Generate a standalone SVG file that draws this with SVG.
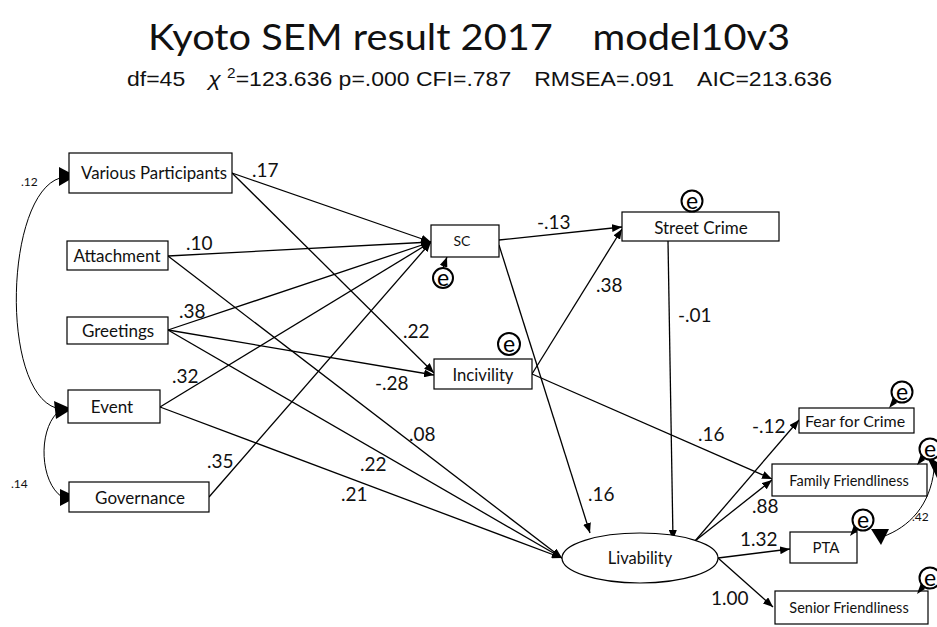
<svg xmlns="http://www.w3.org/2000/svg" width="937" height="627" viewBox="0 0 937 627">
  <defs>
    <marker id="arr" markerUnits="userSpaceOnUse" markerWidth="10" markerHeight="8" refX="10" refY="4" orient="auto">
      <path d="M0,0 L10,4 L0,8 z" fill="#000"/>
    </marker>
  </defs>
  <style>
    .bg { fill: #fff; }
    .box { fill: #fff; stroke: #000; stroke-width: 1.2; }
    .lbl { font-family: Lato, "Liberation Sans", sans-serif; fill: #111; text-anchor: middle; }
    .coef { font-family: Lato, "Liberation Sans", sans-serif; font-size: 19px; fill: #111; }
    .cov { font-family: Lato, "Liberation Sans", sans-serif; font-size: 12px; fill: #111; }
    .path { fill: none; stroke: #000; stroke-width: 1.3; marker-end: url(#arr); }
    .curve { fill: none; stroke: #000; stroke-width: 1; }
    .head { fill: #000; }
    .err circle { fill: #fff; stroke: #000; stroke-width: 2; }
    .err text { font-family: Lato, "Liberation Sans", sans-serif; font-size: 23px; fill: #000; text-anchor: middle; }
  </style>

  <rect class="bg" x="0" y="0" width="937" height="627"/>

  <!-- heading -->
  <text x="469" y="50" font-family="Lato, 'Liberation Sans', sans-serif" font-size="37" fill="#111" text-anchor="middle" textLength="642" lengthAdjust="spacingAndGlyphs">Kyoto SEM result 2017　model10v3</text>
  <text x="127" y="86" font-family="'Liberation Sans', 'Noto Sans CJK JP', sans-serif" font-size="21" fill="#111" textLength="705" lengthAdjust="spacingAndGlyphs">df=45　<tspan font-style="italic">χ</tspan> <tspan dy="-8" font-size="14">2</tspan><tspan dy="8">=123.636 p=.000 CFI=.787　RMSEA=.091　AIC=213.636</tspan></text>

  <!-- connectors -->
  <g id="connectors">
    <!-- into SC -->
    <line class="path" x1="232" y1="173" x2="431" y2="242"/>
    <line class="path" x1="168" y1="256" x2="431" y2="242"/>
    <line class="path" x1="168" y1="330" x2="431" y2="242"/>
    <line class="path" x1="160" y1="407" x2="431" y2="242"/>
    <line class="path" x1="209" y1="497" x2="431" y2="242"/>
    <!-- into Incivility -->
    <line class="path" x1="232" y1="173" x2="434" y2="373"/>
    <line class="path" x1="168" y1="330" x2="434" y2="375"/>
    <!-- into Livability -->
    <line class="path" x1="168" y1="256" x2="562" y2="558"/>
    <line class="path" x1="168" y1="330" x2="562" y2="558"/>
    <line class="path" x1="160" y1="407" x2="562" y2="558"/>
    <line class="path" x1="499" y1="245" x2="590" y2="533"/>
    <line class="path" x1="668" y1="241" x2="673" y2="540"/>
    <!-- into Street Crime -->
    <line class="path" x1="499" y1="240" x2="622" y2="227"/>
    <line class="path" x1="532" y1="374" x2="622" y2="229"/>
    <!-- Incivility to Family Friendliness -->
    <line class="path" x1="532" y1="374" x2="772" y2="479"/>
    <!-- from Livability -->
    <line class="path" x1="695" y1="541" x2="799" y2="420"/>
    <line class="path" x1="695" y1="541" x2="772" y2="480"/>
    <line class="path" x1="718" y1="558" x2="790" y2="549"/>
    <line class="path" x1="718" y1="558" x2="773" y2="607"/>
    <!-- error into SC -->
    <line class="path" x1="443" y1="268" x2="447" y2="257"/>

    <!-- covariances -->
    <path class="curve" d="M60,178 C5,195 0,390 56,408"/>
    <polygon class="head" points="59,167 76,176 59,186"/>
    <polygon class="head" points="54,401 72,409 56,419"/>
    <path class="curve" d="M57,413 C38,432 40,482 62,497"/>
    <polygon class="head" points="60,489 77,497 60,506"/>
    <path class="curve" d="M934,470 C930,505 910,527 882,537"/>
    <polygon class="head" points="926,455 937,462 937,478"/>
    <polygon class="head" points="871,529 889,529 881,545"/>
  </g>

  <!-- coefficient labels -->
  <g id="coefficients">
    <text class="coef" x="252" y="177">.17</text>
    <text class="coef" x="186" y="250">.10</text>
    <text class="coef" x="179" y="318">.38</text>
    <text class="coef" x="172" y="383">.32</text>
    <text class="coef" x="207" y="468">.35</text>
    <text class="coef" x="403" y="338">.22</text>
    <text class="coef" x="375" y="390">-.28</text>
    <text class="coef" x="409" y="441">.08</text>
    <text class="coef" x="360" y="471">.22</text>
    <text class="coef" x="341" y="501">.21</text>
    <text class="coef" x="588" y="501">.16</text>
    <text class="coef" x="537" y="229">-.13</text>
    <text class="coef" x="596" y="292">.38</text>
    <text class="coef" x="678" y="322">-.01</text>
    <text class="coef" x="698" y="441">.16</text>
    <text class="coef" x="752" y="433">-.12</text>
    <text class="coef" x="752" y="513">.88</text>
    <text class="coef" x="740" y="546">1.32</text>
    <text class="coef" x="711" y="605">1.00</text>
    <text class="cov" x="21" y="186">.12</text>
    <text class="cov" x="11" y="488">.14</text>
    <text class="cov" x="912" y="521">.42</text>
  </g>

  <!-- observed and latent variables -->
  <g id="various-participants">
    <rect class="box" x="69" y="153" width="163" height="40"/>
    <text class="lbl" x="154" y="179" font-size="16.8">Various Participants</text>
  </g>
  <g id="attachment">
    <rect class="box" x="67" y="241" width="101" height="29"/>
    <text class="lbl" x="117" y="262" font-size="17">Attachment</text>
  </g>
  <g id="greetings">
    <rect class="box" x="67" y="317" width="101" height="27"/>
    <text class="lbl" x="118" y="337" font-size="17">Greetings</text>
  </g>
  <g id="event">
    <rect class="box" x="68" y="390" width="92" height="33"/>
    <text class="lbl" x="112" y="413" font-size="17">Event</text>
  </g>
  <g id="governance">
    <rect class="box" x="69" y="482" width="140" height="30"/>
    <text class="lbl" x="140" y="504" font-size="17">Governance</text>
  </g>
  <g id="sc">
    <rect class="box" x="431" y="225" width="68" height="32"/>
    <text class="lbl" x="462" y="246" font-size="14">SC</text>
  </g>
  <g id="street-crime">
    <rect class="box" x="622" y="212" width="157" height="29"/>
    <text class="lbl" x="701" y="234" font-size="17">Street Crime</text>
  </g>
  <g id="incivility">
    <rect class="box" x="434" y="359" width="98" height="30"/>
    <text class="lbl" x="483" y="381" font-size="16.7">Incivility</text>
  </g>
  <g id="livability">
    <ellipse class="box" cx="640" cy="558" rx="78" ry="25"/>
    <text class="lbl" x="640" y="564" font-size="16.5">Livability</text>
  </g>
  <g id="fear-for-crime">
    <rect class="box" x="799" y="408" width="115" height="25"/>
    <text class="lbl" x="855" y="427" font-size="16">Fear for Crime</text>
  </g>
  <g id="family-friendliness">
    <rect class="box" x="772" y="464" width="155" height="32"/>
    <text class="lbl" x="849" y="486" font-size="14.5">Family Friendliness</text>
  </g>
  <g id="pta">
    <rect class="box" x="790" y="532" width="67" height="31"/>
    <text class="lbl" x="826" y="553" font-size="15">PTA</text>
  </g>
  <g id="senior-friendliness">
    <rect class="box" x="775" y="591" width="153" height="33"/>
    <text class="lbl" x="849" y="613" font-size="14.5">Senior Friendliness</text>
  </g>

  <!-- error terms -->
  <g id="e-sc" class="err">
    <circle cx="443" cy="278" r="10"/>
    <text x="443" y="286">e</text>
  </g>
  <g id="e-street-crime" class="err">
    <circle cx="692" cy="201" r="10.5"/>
    <text x="692" y="209">e</text>
  </g>
  <g id="e-incivility" class="err">
    <circle cx="509" cy="344" r="11"/>
    <text x="509" y="352">e</text>
  </g>
  <g id="e-fear" class="err">
    <polygon points="893,397 897,403 889,408" fill="#000"/>
    <circle cx="902" cy="392" r="10.5"/>
    <text x="902" y="400">e</text>
  </g>
  <g id="e-family" class="err">
    <polygon points="921,454 925,460 917,465" fill="#000"/>
    <circle cx="930" cy="449" r="10.5"/>
    <text x="930" y="457">e</text>
  </g>
  <g id="e-pta" class="err">
    <polygon points="854,525 858,531 850,536" fill="#000"/>
    <circle cx="863" cy="520" r="10.5"/>
    <text x="863" y="528">e</text>
  </g>
  <g id="e-senior" class="err">
    <polygon points="921,583 925,589 917,594" fill="#000"/>
    <circle cx="930" cy="578" r="10.5"/>
    <text x="930" y="586">e</text>
  </g>
</svg>
